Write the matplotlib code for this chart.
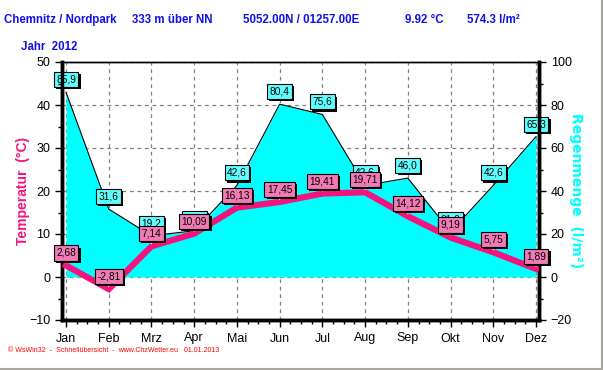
import matplotlib.pyplot as plt
import matplotlib.patheffects as pe
import numpy as np
from matplotlib.ticker import MultipleLocator, AutoMinorLocator
from matplotlib.lines import Line2D

# Monatswerte 2012, Chemnitz / Nordpark
months = ["Jan", "Feb", "Mrz", "Apr", "Mai", "Jun",
          "Jul", "Aug", "Sep", "Okt", "Nov", "Dez"]
temp = [2.68, -2.81, 7.14, 10.09, 16.13, 17.45,
        19.41, 19.71, 14.12, 9.19, 5.75, 1.89]
rain = [85.9, 31.6, 19.2, 21.5, 42.6, 80.4,
        75.6, 42.6, 46.0, 21.0, 42.6, 65.3]

plt.rcParams['font.family'] = ['Liberation Sans', 'DejaVu Sans']

blue = "#1010e8"
pink = "#f5147d"
cyan = "#00ffff"

fig = plt.figure(figsize=(6.03, 3.70), dpi=100)
ax2 = fig.add_axes([62 / 603, 50 / 370, 477 / 603, 258 / 370])
ax = ax2.twinx()
x = np.arange(len(months))

# rain on the back axes (right scale), grid stays below the fill
ax2.fill_between(x, 0, rain, color=cyan, lw=0, zorder=2)
ax2.plot(x, rain, color="black", lw=0.8, zorder=3)
ax2.set_ylim(-20, 100)
ax2.yaxis.set_major_locator(MultipleLocator(20))
ax2.yaxis.set_minor_locator(MultipleLocator(10))
ax2.yaxis.tick_right()
ax2.yaxis.set_label_position("right")
ax2.grid(True, which="major", color="#808080", ls=(0, (3, 3)), lw=0.9, zorder=1)
ax2.set_axisbelow(True)

# temperature on the front axes (left scale)
ax.yaxis.tick_left()
ax.yaxis.set_label_position("left")
ax.set_zorder(ax2.get_zorder() + 1)
ax.patch.set_visible(False)
ax.plot(x, temp, color=pink, lw=4.5, solid_joinstyle="miter", zorder=4)
ax.set_ylim(-10, 50)
ax.yaxis.set_major_locator(MultipleLocator(10))
ax.yaxis.set_minor_locator(MultipleLocator(5))

ax2.set_xlim(-0.094, 11.07)
ax2.set_xticks(x)
ax2.set_xticklabels(months)
ax2.xaxis.set_minor_locator(AutoMinorLocator(4))

for a in (ax, ax2):
    a.tick_params(which="both", direction="out", labelsize=9, width=1, color="black")
    a.tick_params(which="major", length=5)
    a.tick_params(which="minor", length=3)
    for side in ("left", "right", "bottom"):
        a.spines[side].set_linewidth(2.5)
    a.spines["top"].set_linewidth(1)
ax2.tick_params(axis="x", pad=4)

ax.set_ylabel("Temperatur  (°C)", color=pink, fontsize=10, fontweight="bold")
ax.yaxis.set_label_coords(-0.067, 0.5)
ax2.set_ylabel("Regenmenge  (l/m²)", color=cyan, fontsize=10, fontweight="bold",
               rotation=-90, family="DejaVu Sans", va="center")
ax2.yaxis.set_label_coords(1.078, 0.5)

shadow = [pe.withSimplePatchShadow(offset=(1.5, -1.5), shadow_rgbFace="black", alpha=1)]


def boxed(axis, xv, yv, txt, face, dy, stem):
    # value box above the point, temp boxes get a small white stem
    if stem:
        axis.annotate("", xy=(xv, yv), xytext=(0, dy - 5), textcoords="offset points",
                      arrowprops=dict(arrowstyle="-", color="white", lw=1,
                                      shrinkA=0, shrinkB=2), zorder=5)
    t = axis.annotate(txt, xy=(xv, yv), xytext=(0, dy), textcoords="offset points",
                      ha="center", va="center", fontsize=7.3, color="black",
                      bbox=dict(boxstyle="square,pad=0.25", fc=face, ec="black", lw=0.8),
                      zorder=7)
    t.get_bbox_patch().set_path_effects(shadow)


for xi, r in zip(x, rain):
    boxed(ax2, xi, r, f"{r:.1f}".replace(".", ","), "#60ffff", 9, False)
for xi, t in zip(x, temp):
    boxed(ax, xi, t, f"{t:.2f}".replace(".", ","), "#f27ab5", 9, True)

# header
head_y = 1 - 20 / 370
for xp, txt in [(4, "Chemnitz / Nordpark"), (132, "333 m über NN"),
                (243, "5052.00N / 01257.00E"), (405, "9.92 °C"), (467, "574.3 l/m²")]:
    fig.text(xp / 603, head_y, txt, color=blue, fontsize=8.3, fontweight="bold",
             va="center")
fig.text(21 / 603, 1 - 47 / 370, "Jahr  2012", color=blue, fontsize=8.3,
         fontweight="bold", va="center")
fig.text(8 / 603, 1 - 351 / 370,
         "© WsWin32  -  Schnellübersicht  -  www.ChzWetter.eu   01.01.2013",
         color="red", fontsize=5, va="center")

# light frame at bottom / right edge
fig.add_artist(Line2D([0, 1], [1.5 / 370, 1.5 / 370], color="#a8a8a0", lw=1.5))
fig.add_artist(Line2D([601.5 / 603, 601.5 / 603], [0, 1], color="#a8a8a0", lw=1.5))

fig.savefig("out.png", dpi=100)
